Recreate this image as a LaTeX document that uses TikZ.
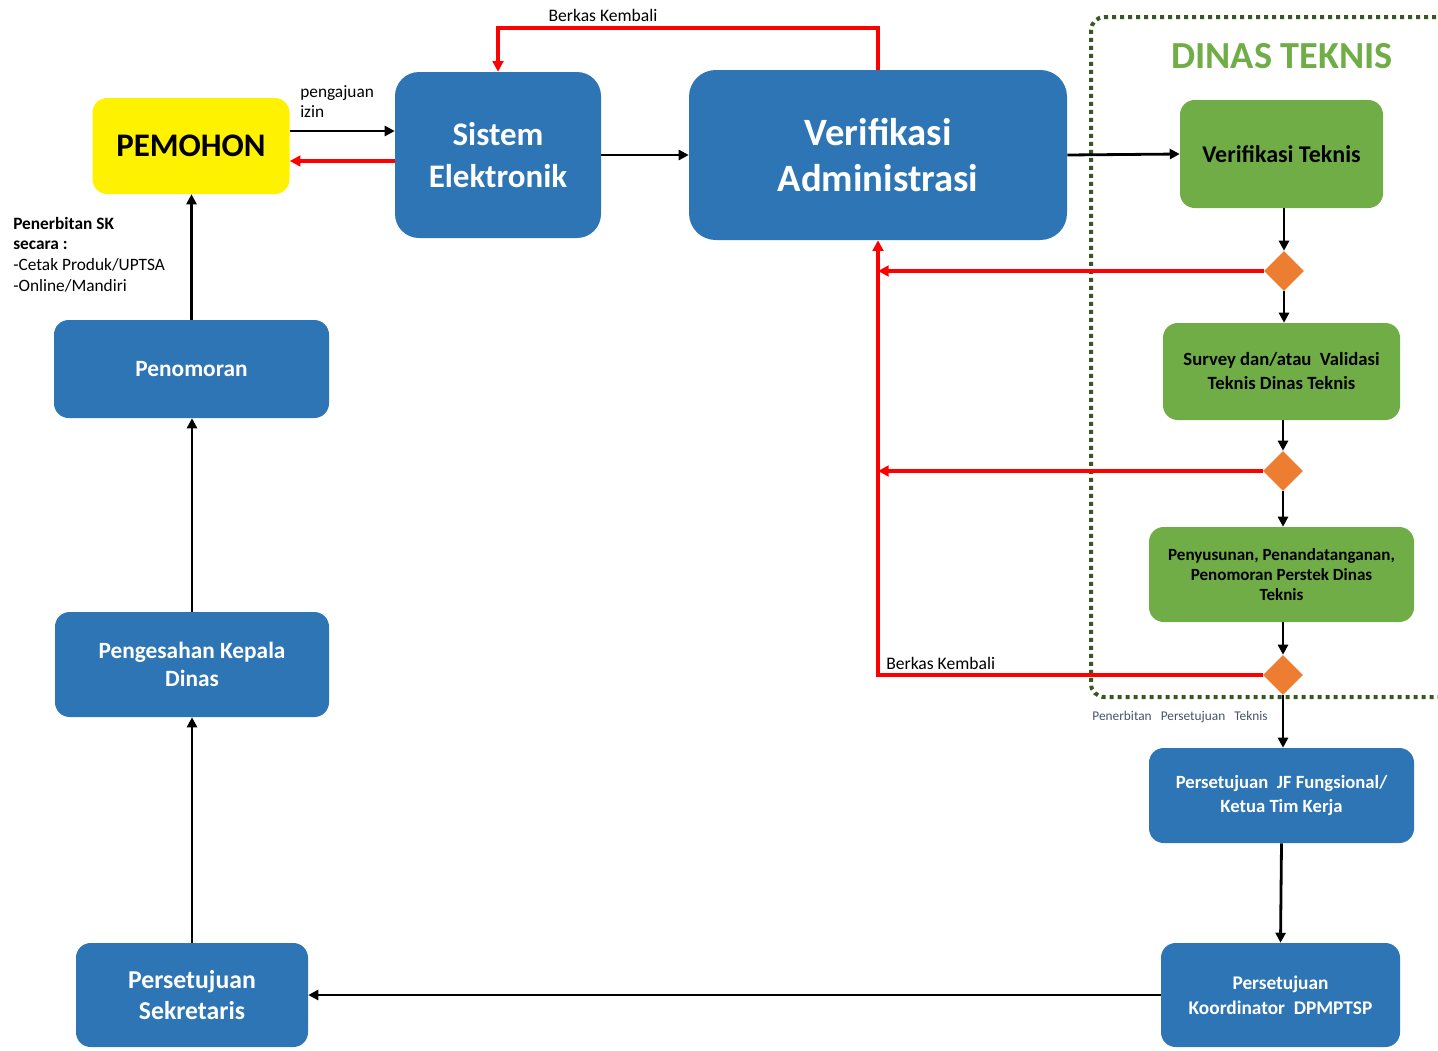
\documentclass[tikz,border=0pt]{standalone}
\usepackage{fontspec}
\setmainfont{Carlito}
\usetikzlibrary{arrows.meta,shapes.geometric}
\definecolor{boxblue}{RGB}{46,117,182}
\definecolor{boxgreen}{RGB}{112,173,71}
\definecolor{dgreen}{RGB}{56,87,35}
\definecolor{dorange}{RGB}{237,125,49}
\definecolor{capgrey}{RGB}{68,84,106}
\begin{document}
\begin{tikzpicture}[x=0.75pt,y=-0.75pt,
  bluebox/.style={fill=boxblue, draw=none, rounded corners=11pt, text=white, font=\bfseries, align=center, inner sep=0pt},
  greenbox/.style={fill=boxgreen, draw=none, rounded corners=11pt, text=black, font=\bfseries, align=center, inner sep=0pt},
  yellowbox/.style={fill=yellow, draw=none, rounded corners=11pt, text=black, font=\bfseries, align=center, inner sep=0pt},
  dec/.style={diamond, fill=dorange, draw=none, minimum width=30pt, minimum height=30pt, inner sep=0pt},
  arr/.style={line width=2.1pt, black, -{Triangle[length=7.5pt,width=7.5pt]}},
  redarr/.style={line width=2.9pt, red, -{Triangle[length=8pt,width=8pt]}},
  lbl/.style={inner sep=0pt, align=left}]
\useasboundingbox (0,0) rectangle (1438,1050);

% dotted region
\draw[dgreen, line width=3pt, dash pattern=on 3pt off 3pt, rounded corners=10pt]
  (1500,17) -- (1091,17) -- (1091,697) -- (1500,697);
\node[text=boxgreen, font=\bfseries\fontsize{28.7}{32}\selectfont, inner sep=0pt] (dt) at (1282,56) {DINAS TEKNIS};

% nodes
\node[yellowbox, minimum width=147.75pt, minimum height=72pt, font=\bfseries\fontsize{24.7}{28}\selectfont] (pem) at (191,146) {PEMOHON};
\node[bluebox, rounded corners=18pt, minimum width=154.5pt, minimum height=124.5pt, font=\bfseries\fontsize{24.7}{31}\selectfont] (sis) at (498,155) {Sistem\\Elektronik};
\node[bluebox, rounded corners=20pt, minimum width=283.5pt, minimum height=127.5pt, font=\bfseries\fontsize{29}{34}\selectfont] (va) at (878,155) {Verifikasi\\Administrasi};
\node[greenbox, minimum width=152.25pt, minimum height=81pt, font=\bfseries\fontsize{18}{20}\selectfont] (vt) at (1281.5,154) {Verifikasi Teknis};
\node[dec] (d1) at (1284,271) {};
\node[greenbox, minimum width=177.75pt, minimum height=72.75pt, font=\bfseries\fontsize{14}{18}\selectfont] (sv) at (1281.5,371.5) {Survey dan/atau\ \ Validasi\\Teknis Dinas Teknis};
\node[dec] (d2) at (1283,471) {};
\node[greenbox, minimum width=198.75pt, minimum height=71.25pt, font=\bfseries\fontsize{12.8}{15}\selectfont] (py) at (1281.5,574.5) {Penyusunan, Penandatanganan,\\Penomoran Perstek Dinas\\Teknis};
\node[dec] (d3) at (1283,675) {};
\node[bluebox, minimum width=198.75pt, minimum height=71.25pt, font=\bfseries\fontsize{14}{18}\selectfont] (jf) at (1281.5,795.5) {Persetujuan\ \ JF Fungsional/\\Ketua Tim Kerja};
\node[bluebox, minimum width=179.25pt, minimum height=78pt, font=\bfseries\fontsize{14.5}{19}\selectfont] (ko) at (1280.5,995) {Persetujuan\\Koordinator\ \ DPMPTSP};
\node[bluebox, minimum width=174pt, minimum height=78pt, font=\bfseries\fontsize{19.3}{23}\selectfont] (sk) at (192,995) {Persetujuan\\Sekretaris};
\node[bluebox, minimum width=205.5pt, minimum height=78.75pt, font=\bfseries\fontsize{17.5}{21}\selectfont] (pk) at (192,664.5) {Pengesahan Kepala\\Dinas};
\node[bluebox, minimum width=206.25pt, minimum height=73.5pt, font=\bfseries\fontsize{17.5}{20}\selectfont] (pn) at (191.5,369) {Penomoran};

% labels
\node[lbl, anchor=north west, font=\fontsize{13}{15}\selectfont] (lpi) at (300,85) {pengajuan\\izin};
\node[lbl, font=\fontsize{13.2}{14}\selectfont] (lbk1) at (603,15) {Berkas Kembali};
\node[lbl, anchor=west, font=\fontsize{13.2}{14}\selectfont] (lbk2) at (886,663) {Berkas Kembali};
\node[lbl, anchor=north west, font=\fontsize{13}{15.4}\selectfont] (lsk) at (13,217) {\textbf{Penerbitan SK}\\\textbf{secara :}\\-Cetak Produk/UPTSA\\-Online/Mandiri};
\node[lbl, text=capgrey, font=\fontsize{10}{11}\selectfont] (lpt) at (1180,717) {Penerbitan\ \ \ Persetujuan\ \ \ Teknis};

% black connectors
\draw[arr] (pem.east |- 0,131) -- (sis.west |- 0,131);
\draw[redarr] (sis.west |- 0,161) -- (pem.east |- 0,161);
\draw[arr] (sis.east) -- (va.west);
\draw[arr] (va.east) -- (vt.west);
\draw[arr] (vt.south -| d1.north) -- (d1.north);
\draw[arr] (d1.south) -- (d1.south |- sv.north);
\draw[arr] (sv.south -| d2.north) -- (d2.north);
\draw[arr] (d2.south) -- (d2.south |- py.north);
\draw[arr] (py.south -| d3.north) -- (d3.north);
\draw[arr] (d3.south) -- (d3.south |- jf.north);
\draw[arr] (jf.south) -- (ko.north);
\draw[arr] (ko.west) -- (sk.east);
\draw[arr] (sk.north) -- (sk.north |- pk.south);
\draw[arr] (pk.north) -- (pk.north |- pn.south);
\draw[arr] (pn.north) -- (pn.north |- pem.south);

% red connectors
\draw[redarr] (va.north) -- (va.north |- 0,28) -- (sis.north |- 0,28) -- (sis.north);
\draw[redarr] (d1.west) -- (va.south |- d1.west);
\draw[redarr] (d2.west) -- (va.south |- d2.west);
\draw[redarr] (d3.west) -- (va.south |- d3.west) -- (va.south);
\end{tikzpicture}
\end{document}
